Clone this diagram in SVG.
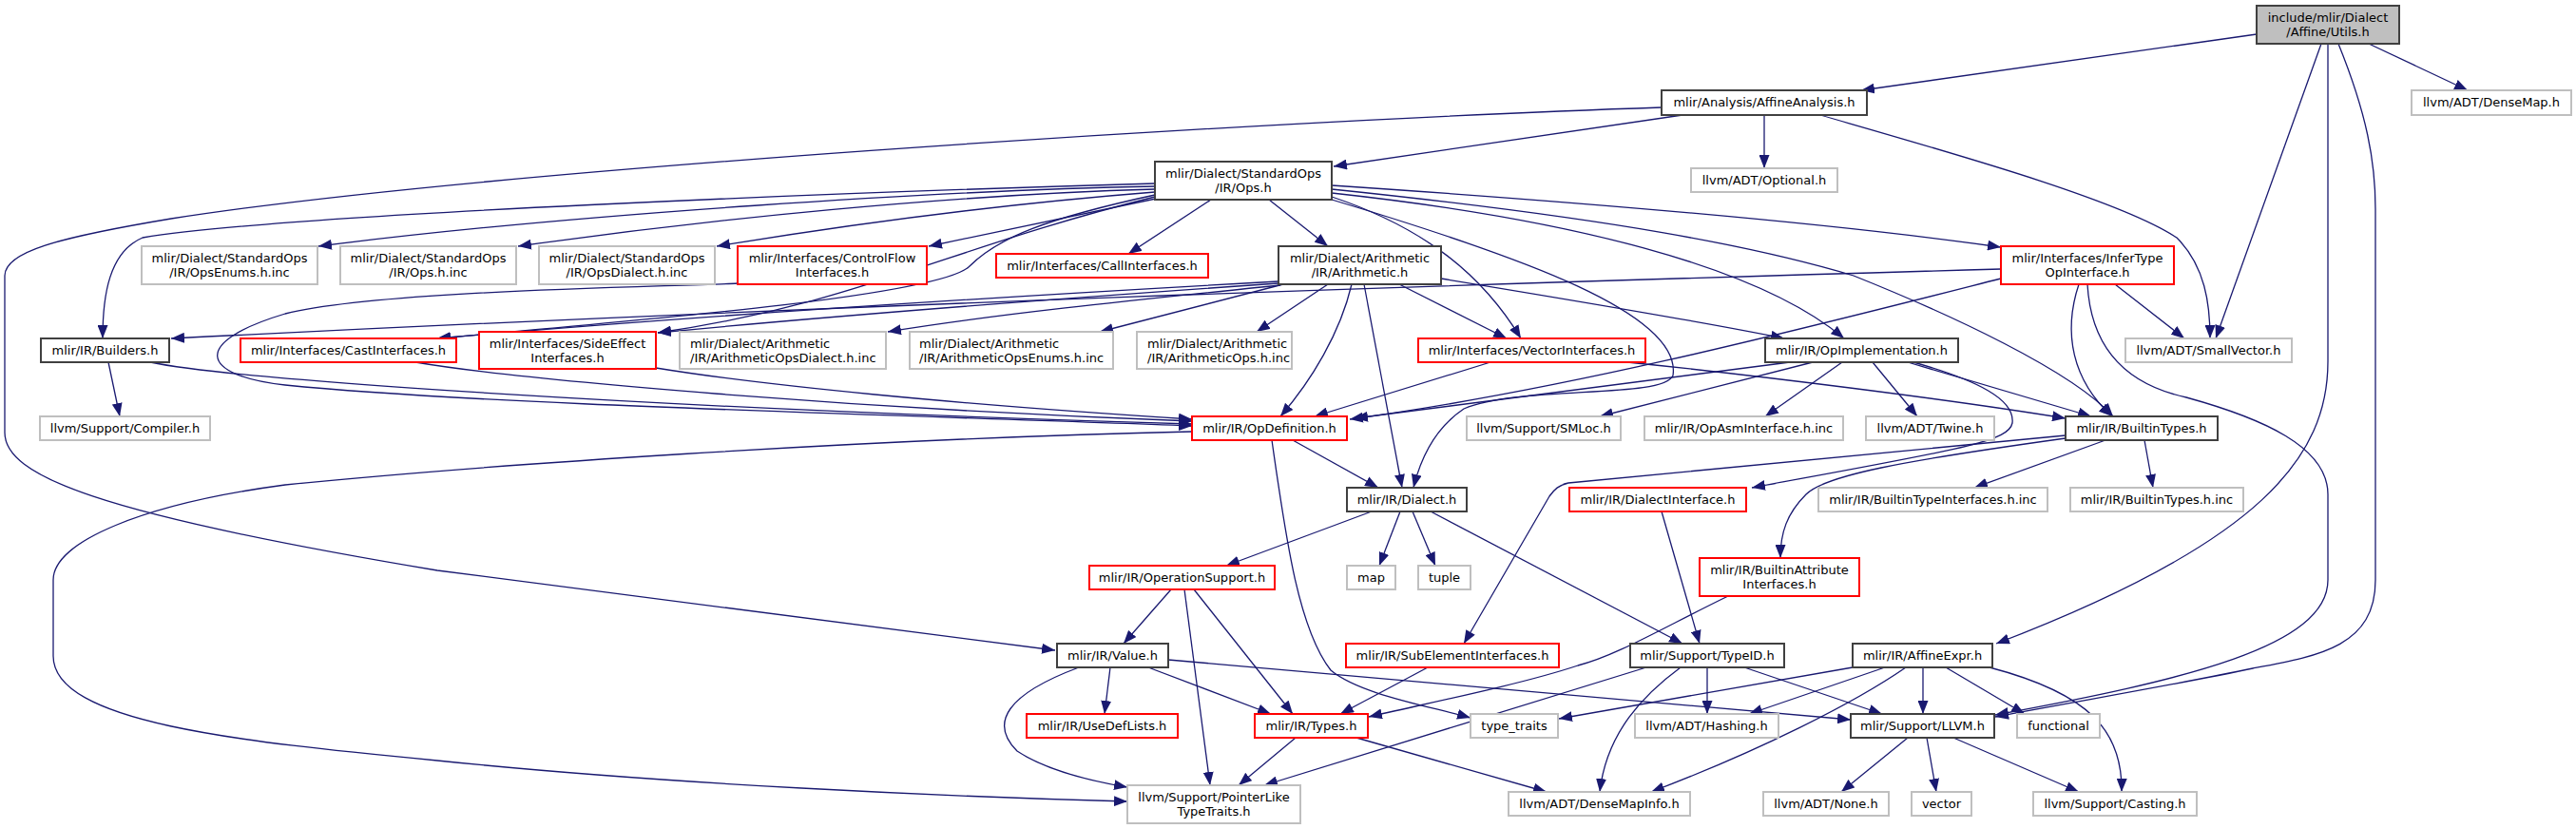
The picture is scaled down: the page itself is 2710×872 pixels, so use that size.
<svg xmlns="http://www.w3.org/2000/svg" width="2710" height="872" viewBox="0 0 2710 872">
<style>
rect{fill:#fff;stroke-width:2}
.blk{stroke:#404040}
.red{stroke:#ff0000}
.gry{stroke:#bfbfbf}
.root{fill:#bfbfbf;stroke:#404040}
text{font-family:"DejaVu Sans","Liberation Sans",sans-serif;font-size:13px;fill:#000;text-anchor:middle}
text.l{text-anchor:start}
#edges path{fill:none;stroke:#191970;stroke-width:1.3;marker-end:url(#a)}
</style>
<defs>
<marker id="a" markerWidth="14" markerHeight="11" refX="14" refY="5.5" orient="auto" markerUnits="userSpaceOnUse"><path d="M0,0 L14,5.5 L0,11 z" fill="#191970"/></marker>
</defs>
<rect x="0" y="0" width="2710" height="872" style="fill:#fff;stroke:none"/>
<g id="edges">
<path d="M2374,36 L1958,95"/>
<path d="M2492,46 L2596,95"/>
<path d="M2442,46 L2331,356"/>
<path d="M2449,46 L2449,380 C2449,480 2380,570 2100,677"/>
<path d="M2460,46 C2490,120 2499,170 2499,220 L2499,610 C2499,680 2440,690 2370,703 C2300,718 2200,735 2099,754"/>
<path d="M1770,121 L1403,175"/>
<path d="M1748,113 C1300,128 500,180 180,230 C60,250 5,265 5,290 L5,455 C5,500 100,540 460,600 L1110,684"/>
<path d="M1856,121 L1856,177"/>
<path d="M1915,121 C2050,160 2230,210 2290,250 C2320,280 2325,320 2325,356"/>
<path d="M1215,193 C900,202 300,225 150,250 C115,265 108,310 108,356"/>
<path d="M1215,196 C1000,200 600,225 335,259"/>
<path d="M1215,199 C1000,205 750,230 545,259"/>
<path d="M1215,202 C1050,215 900,235 754,259"/>
<path d="M1216,209 L977,259"/>
<path d="M1274,210 L1187,267"/>
<path d="M1335,210 L1397,259"/>
<path d="M1215,205 C1100,230 1050,250 1020,280 C990,310 700,335 460,356"/>
<path d="M1215,207 C1000,260 900,320 692,350"/>
<path d="M1401,207 C1500,240 1560,290 1600,356"/>
<path d="M1401,210 C1600,270 1770,330 1760,395 C1750,420 1600,405 1540,430 C1510,450 1495,480 1487,513"/>
<path d="M1401,195 C1700,215 1950,238 2105,260"/>
<path d="M1401,199 C1700,230 1850,260 1950,290 C2050,330 2180,390 2223,438"/>
<path d="M1401,203 C1650,230 1850,280 1940,356"/>
<path d="M114,381 L126,438"/>
<path d="M158,381 C250,400 700,430 1254,446"/>
<path d="M437,381 C550,400 900,430 1254,443"/>
<path d="M776,298 C700,302 400,305 300,330 C200,360 210,395 300,405 C500,425 900,435 1254,448"/>
<path d="M690,387 C800,405 1000,425 1254,441"/>
<path d="M1345,296 C1000,315 700,335 460,356"/>
<path d="M1345,298 C1100,315 900,330 692,350"/>
<path d="M1347,300 C1200,315 1050,330 934,349"/>
<path d="M1350,299 L1157,349"/>
<path d="M1397,299 L1322,349"/>
<path d="M1472,299 L1585,356"/>
<path d="M1422,299 C1410,350 1380,400 1347,438"/>
<path d="M1435,299 L1475,513"/>
<path d="M1516,293 C1650,315 1800,340 1877,356"/>
<path d="M2105,283 C1500,300 900,320 180,356"/>
<path d="M2105,293 C1900,345 1650,410 1420,441"/>
<path d="M1883,381 L1425,440"/>
<path d="M1568,381 L1383,438"/>
<path d="M1712,381 C1850,395 2050,420 2173,440"/>
<path d="M2187,299 C2170,350 2180,400 2222,438"/>
<path d="M2196,299 C2200,370 2240,405 2300,418 C2380,440 2449,470 2449,520 L2449,610 C2449,680 2300,715 2099,752"/>
<path d="M2225,299 L2298,356"/>
<path d="M1907,381 L1683,438"/>
<path d="M1938,381 L1857,438"/>
<path d="M1970,381 L2017,438"/>
<path d="M2007,381 L2200,438"/>
<path d="M2013,381 C2080,400 2120,420 2117,445 C2113,465 2060,473 1843,513"/>
<path d="M1360,463 L1450,513"/>
<path d="M1338,463 C1352,560 1365,660 1400,705 C1430,730 1500,742 1547,755"/>
<path d="M1254,454 C900,462 500,490 300,510 C150,530 56,570 56,610 L56,690 C56,760 250,780 460,800 C700,825 1000,838 1186,843"/>
<path d="M1443,538 L1290,595"/>
<path d="M1473,538 L1451,595"/>
<path d="M1486,538 L1510,595"/>
<path d="M1505,538 L1770,677"/>
<path d="M1748,538 L1788,677"/>
<path d="M2215,463 L2077,513"/>
<path d="M2256,463 L2265,513"/>
<path d="M2173,458 L1650,508 C1640,510 1635,515 1630,522 L1540,677"/>
<path d="M2173,461 C2000,485 1920,500 1900,520 C1880,540 1873,560 1873,587"/>
<path d="M1232,620 L1182,677"/>
<path d="M1246,620 L1273,826"/>
<path d="M1256,620 L1360,751"/>
<path d="M1168,702 L1162,751"/>
<path d="M1208,702 L1337,751"/>
<path d="M1135,702 C1060,730 1040,760 1070,790 C1100,810 1150,822 1186,828"/>
<path d="M1229,694 L1947,757"/>
<path d="M1363,776 L1303,826"/>
<path d="M1427,776 L1627,833"/>
<path d="M1502,702 L1410,751"/>
<path d="M1818,627 C1750,660 1700,690 1660,700 C1600,720 1500,740 1440,754"/>
<path d="M1732,702 L1330,826"/>
<path d="M1768,702 C1730,730 1690,770 1683,833"/>
<path d="M1796,702 L1796,751"/>
<path d="M1835,702 L1980,751"/>
<path d="M1949,702 L1640,756"/>
<path d="M1983,702 L1840,751"/>
<path d="M2023,702 L2023,751"/>
<path d="M2047,702 L2130,751"/>
<path d="M2005,702 C1950,740 1850,790 1737,833"/>
<path d="M2093,702 C2200,730 2233,770 2232,833"/>
<path d="M2007,776 L1937,833"/>
<path d="M2027,776 L2037,833"/>
<path d="M2055,776 L2187,833"/>
</g>
<g id="n1"><rect class="root" x="2374" y="6" width="150" height="40"/><text x="2449" y="23">include/mlir/Dialect</text><text x="2449" y="37.5">/Affine/Utils.h</text></g>
<g id="n2"><rect class="gry" x="2537" y="95" width="168" height="26"/><text x="2621" y="112">llvm/ADT/DenseMap.h</text></g>
<g id="n3"><rect class="blk" x="1748" y="95" width="216" height="26"/><text x="1856" y="112">mlir/Analysis/AffineAnalysis.h</text></g>
<g id="n4"><rect class="gry" x="1779" y="177" width="154" height="25"/><text x="1856" y="193.5">llvm/ADT/Optional.h</text></g>
<g id="n5"><rect class="blk" x="1215" y="170" width="186" height="40"/><text x="1308" y="187">mlir/Dialect/StandardOps</text><text x="1308" y="201.5">/IR/Ops.h</text></g>
<g id="n6"><rect class="gry" x="2236" y="356" width="175" height="25"/><text x="2323.5" y="372.5">llvm/ADT/SmallVector.h</text></g>
<g id="n7"><rect class="blk" x="43" y="356" width="135" height="25"/><text x="110.5" y="372.5">mlir/IR/Builders.h</text></g>
<g id="n8"><rect class="gry" x="42" y="438" width="179" height="25"/><text x="131.5" y="454.5">llvm/Support/Compiler.h</text></g>
<g id="n9"><rect class="gry" x="149" y="259" width="185" height="40"/><text x="241.5" y="276">mlir/Dialect/StandardOps</text><text x="241.5" y="290.5">/IR/OpsEnums.h.inc</text></g>
<g id="n10"><rect class="gry" x="358" y="259" width="185" height="40"/><text x="450.5" y="276">mlir/Dialect/StandardOps</text><text x="450.5" y="290.5">/IR/Ops.h.inc</text></g>
<g id="n11"><rect class="gry" x="567" y="259" width="185" height="40"/><text x="659.5" y="276">mlir/Dialect/StandardOps</text><text x="659.5" y="290.5">/IR/OpsDialect.h.inc</text></g>
<g id="n12"><rect class="red" x="776" y="259" width="199" height="40"/><text x="875.5" y="276">mlir/Interfaces/ControlFlow</text><text x="875.5" y="290.5">Interfaces.h</text></g>
<g id="n13"><rect class="red" x="1048" y="267" width="223" height="25"/><text x="1159.5" y="283.5">mlir/Interfaces/CallInterfaces.h</text></g>
<g id="n14"><rect class="blk" x="1345" y="259" width="171" height="40"/><text x="1430.5" y="276">mlir/Dialect/Arithmetic</text><text x="1430.5" y="290.5">/IR/Arithmetic.h</text></g>
<g id="n15"><rect class="red" x="2105" y="259" width="182" height="40"/><text x="2196" y="276">mlir/Interfaces/InferType</text><text x="2196" y="290.5">OpInterface.h</text></g>
<g id="n16"><rect class="red" x="253" y="356" width="227" height="25"/><text x="366.5" y="372.5">mlir/Interfaces/CastInterfaces.h</text></g>
<g id="n17"><rect class="red" x="504" y="349" width="186" height="39"/><text x="597" y="366">mlir/Interfaces/SideEffect</text><text x="597" y="380.5">Interfaces.h</text></g>
<g id="n18"><rect class="gry" x="715" y="349" width="217" height="39"/><text class="l" x="726" y="366">mlir/Dialect/Arithmetic</text><text class="l" x="726" y="380.5">/IR/ArithmeticOpsDialect.h.inc</text></g>
<g id="n19"><rect class="gry" x="957" y="349" width="214" height="39"/><text class="l" x="967" y="366">mlir/Dialect/Arithmetic</text><text class="l" x="967" y="380.5">/IR/ArithmeticOpsEnums.h.inc</text></g>
<g id="n20"><rect class="gry" x="1196" y="349" width="163" height="39"/><text class="l" x="1207" y="366">mlir/Dialect/Arithmetic</text><text class="l" x="1207" y="380.5">/IR/ArithmeticOps.h.inc</text></g>
<g id="n21"><rect class="red" x="1492" y="356" width="239" height="25"/><text x="1611.5" y="372.5">mlir/Interfaces/VectorInterfaces.h</text></g>
<g id="n22"><rect class="blk" x="1857" y="356" width="203" height="25"/><text x="1958.5" y="372.5">mlir/IR/OpImplementation.h</text></g>
<g id="n23"><rect class="red" x="1254" y="438" width="163" height="25"/><text x="1335.5" y="454.5">mlir/IR/OpDefinition.h</text></g>
<g id="n24"><rect class="gry" x="1543" y="438" width="162" height="25"/><text x="1624" y="454.5">llvm/Support/SMLoc.h</text></g>
<g id="n25"><rect class="gry" x="1730" y="438" width="209" height="25"/><text x="1834.5" y="454.5">mlir/IR/OpAsmInterface.h.inc</text></g>
<g id="n26"><rect class="gry" x="1963" y="438" width="135" height="25"/><text x="2030.5" y="454.5">llvm/ADT/Twine.h</text></g>
<g id="n27"><rect class="blk" x="2173" y="438" width="160" height="25"/><text x="2253" y="454.5">mlir/IR/BuiltinTypes.h</text></g>
<g id="n28"><rect class="blk" x="1417" y="513" width="126" height="25"/><text x="1480" y="529.5">mlir/IR/Dialect.h</text></g>
<g id="n29"><rect class="red" x="1651" y="513" width="186" height="25"/><text x="1744" y="529.5">mlir/IR/DialectInterface.h</text></g>
<g id="n30"><rect class="gry" x="1913" y="513" width="241" height="25"/><text x="2033.5" y="529.5">mlir/IR/BuiltinTypeInterfaces.h.inc</text></g>
<g id="n31"><rect class="gry" x="2178" y="513" width="182" height="25"/><text x="2269" y="529.5">mlir/IR/BuiltinTypes.h.inc</text></g>
<g id="n32"><rect class="red" x="1146" y="595" width="195" height="25"/><text x="1243.5" y="611.5">mlir/IR/OperationSupport.h</text></g>
<g id="n33"><rect class="gry" x="1417" y="595" width="51" height="25"/><text x="1442.5" y="611.5">map</text></g>
<g id="n34"><rect class="gry" x="1492" y="595" width="55" height="25"/><text x="1519.5" y="611.5">tuple</text></g>
<g id="n35"><rect class="red" x="1788" y="587" width="168" height="40"/><text x="1872" y="604">mlir/IR/BuiltinAttribute</text><text x="1872" y="618.5">Interfaces.h</text></g>
<g id="n36"><rect class="blk" x="1112" y="677" width="117" height="25"/><text x="1170.5" y="693.5">mlir/IR/Value.h</text></g>
<g id="n37"><rect class="red" x="1416" y="677" width="224" height="25"/><text x="1528" y="693.5">mlir/IR/SubElementInterfaces.h</text></g>
<g id="n38"><rect class="blk" x="1715" y="677" width="162" height="25"/><text x="1796" y="693.5">mlir/Support/TypeID.h</text></g>
<g id="n39"><rect class="blk" x="1949" y="677" width="147" height="25"/><text x="2022.5" y="693.5">mlir/IR/AffineExpr.h</text></g>
<g id="n40"><rect class="red" x="1080" y="751" width="159" height="25"/><text x="1159.5" y="767.5">mlir/IR/UseDefLists.h</text></g>
<g id="n41"><rect class="red" x="1320" y="751" width="119" height="25"/><text x="1379.5" y="767.5">mlir/IR/Types.h</text></g>
<g id="n42"><rect class="gry" x="1547" y="751" width="92" height="25"/><text x="1593" y="767.5">type_traits</text></g>
<g id="n43"><rect class="gry" x="1720" y="751" width="151" height="25"/><text x="1795.5" y="767.5">llvm/ADT/Hashing.h</text></g>
<g id="n44"><rect class="blk" x="1947" y="751" width="151" height="25"/><text x="2022.5" y="767.5">mlir/Support/LLVM.h</text></g>
<g id="n45"><rect class="gry" x="2122" y="751" width="87" height="25"/><text x="2165.5" y="767.5">functional</text></g>
<g id="n46"><rect class="gry" x="1186" y="826" width="182" height="40"/><text x="1277" y="843">llvm/Support/PointerLike</text><text x="1277" y="857.5">TypeTraits.h</text></g>
<g id="n47"><rect class="gry" x="1587" y="833" width="191" height="25"/><text x="1682.5" y="849.5">llvm/ADT/DenseMapInfo.h</text></g>
<g id="n48"><rect class="gry" x="1855" y="833" width="132" height="25"/><text x="1921" y="849.5">llvm/ADT/None.h</text></g>
<g id="n49"><rect class="gry" x="2011" y="833" width="63" height="25"/><text x="2042.5" y="849.5">vector</text></g>
<g id="n50"><rect class="gry" x="2139" y="833" width="172" height="25"/><text x="2225" y="849.5">llvm/Support/Casting.h</text></g>
</svg>
